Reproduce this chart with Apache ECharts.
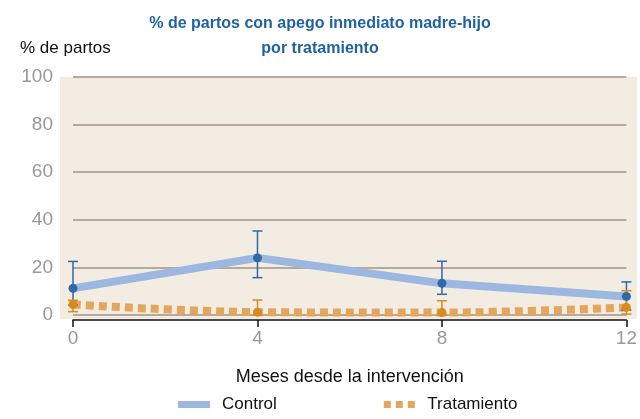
<!DOCTYPE html>
<html>
<head>
<meta charset="utf-8">
<script src="https://cdn.jsdelivr.net/npm/echarts@6/dist/echarts.min.js"></script>
<style>
  html, body { margin: 0; padding: 0; background: #fff; }
  #chart { width: 640px; height: 419px; }
</style>
</head>
<body>
<div id="chart"></div>
<script>
const months = [0, 4, 8, 12]
const yTicks = [0, 20, 40, 60, 80, 100]

const controlPct = [11.2, 24.0, 13.3, 7.8]
const controlLow = [4.2, 15.7, 8.7, 2.1]
const controlHigh = [22.5, 35.3, 22.6, 13.9]

const tratPct = [4.4, 1.2, 1.0, 3.2]
const tratLow = [1.4, 0, 0, 0.4]
const tratHigh = [6.2, 6.3, 6.0, 10.2]

const font = '"Liberation Sans Narrow", "Liberation Sans", sans-serif'
const blueDark = '#2f6aa6',
  blueLight = '#9cb8e0',
  orangeDark = '#d98b1d',
  orangeLight = '#e3a65c'

const pairs = (xs, ys) => xs.map((x, i) => [x, ys[i]])
const bars = (xs, lo, hi) => xs.map((x, i) => [x, lo[i], hi[i]])

// vertical error bar with caps
function errorBar(color) {
  return function (params, api) {
    const x = api.value(0)
    const top = api.coord([x, api.value(2)])
    const bot = api.coord([x, api.value(1)])
    const w = 5
    const style = { stroke: color, lineWidth: 1.5, fill: null }
    return {
      type: 'group',
      children: [
        { type: 'line', shape: { x1: top[0], y1: top[1], x2: bot[0], y2: bot[1] }, style },
        { type: 'line', shape: { x1: top[0] - w, y1: top[1], x2: top[0] + w, y2: top[1] }, style },
        { type: 'line', shape: { x1: bot[0] - w, y1: bot[1], x2: bot[0] + w, y2: bot[1] }, style },
      ],
    }
  }
}

const chart = echarts.init(document.getElementById('chart'))

chart.setOption({
  animation: false,
  backgroundColor: '#fff',
  title: [
    {
      text: '% de partos con apego inmediato madre-hijo',
      left: 'center',
      top: 11,
      textStyle: { fontFamily: font, fontSize: 16, fontWeight: 'bold', color: '#1f62a3' },
    },
    {
      text: 'por tratamiento',
      left: 'center',
      top: 36,
      textStyle: { fontFamily: font, fontSize: 16, fontWeight: 'bold', color: '#1f62a3' },
    },
    {
      text: '% de partos',
      left: 15,
      top: 35,
      textStyle: { fontFamily: font, fontSize: 17, fontWeight: 'normal', color: '#111' },
    },
  ],
  graphic: [
    {
      type: 'rect',
      left: 60,
      top: 77,
      z: -100,
      shape: { width: 577, height: 242 },
      style: { fill: '#f3ece2' },
    },
  ],
  legend: {
    left: 178,
    top: 396,
    padding: 0,
    itemWidth: 32,
    itemHeight: 7,
    itemGap: 107,
    textStyle: { fontFamily: font, fontSize: 17, color: '#111', padding: [0, 0, 0, 7] },
    data: [
      { name: 'Control', icon: 'rect', itemStyle: { color: blueLight } },
      {
        name: 'Tratamiento',
        icon: 'path://M0,0h7v7h-7z M12,0h7v7h-7z M24,0h7v7h-7z',
        itemStyle: { color: orangeLight },
      },
    ],
  },
  grid: { left: 73, right: 13, top: 77, bottom: 104 },
  xAxis: {
    type: 'value',
    min: 0,
    max: 12,
    interval: 4,
    offset: 5,
    name: 'Meses desde la intervención',
    nameLocation: 'middle',
    nameGap: 48,
    nameTextStyle: { fontFamily: font, fontSize: 18, color: '#111' },
    axisLine: { onZero: false, lineStyle: { color: '#111', width: 1.5 } },
    axisTick: { length: 7, lineStyle: { color: '#111', width: 1.5 } },
    axisLabel: { fontFamily: font, fontSize: 19, color: '#999', margin: 9 },
    splitLine: { show: false },
  },
  yAxis: {
    type: 'value',
    min: yTicks[0],
    max: yTicks[yTicks.length - 1],
    interval: yTicks[1] - yTicks[0],
    axisLine: { show: false },
    axisTick: { show: false },
    axisLabel: { fontFamily: font, fontSize: 19, color: '#999', margin: 20 },
    splitLine: { lineStyle: { color: '#a39384', width: 1.5 } },
  },
  series: [
    {
      name: 'Control',
      type: 'line',
      data: pairs(months, controlPct),
      showSymbol: false,
      lineStyle: { color: blueLight, width: 8 },
      itemStyle: { color: blueLight },
      z: 2,
    },
    {
      name: 'Tratamiento',
      type: 'line',
      smooth: 0.35,
      data: pairs(months, tratPct),
      showSymbol: false,
      lineStyle: { color: orangeLight, width: 8, type: [8, 5], cap: 'butt' },
      itemStyle: { color: orangeLight },
      z: 2,
    },
    {
      name: 'ic-control',
      type: 'custom',
      renderItem: errorBar(blueDark),
      data: bars(months, controlLow, controlHigh),
      z: 4,
    },
    {
      name: 'ic-trat',
      type: 'custom',
      renderItem: errorBar(orangeDark),
      data: bars(months, tratLow, tratHigh),
      z: 4,
    },
    {
      name: 'pt-control',
      type: 'scatter',
      data: pairs(months, controlPct),
      symbolSize: 9,
      itemStyle: { color: blueDark, opacity: 1 },
      z: 5,
    },
    {
      name: 'pt-trat',
      type: 'scatter',
      data: pairs(months, tratPct),
      symbolSize: 9,
      itemStyle: { color: orangeDark, opacity: 1 },
      z: 5,
    },
  ],
})
</script>
</body>
</html>
